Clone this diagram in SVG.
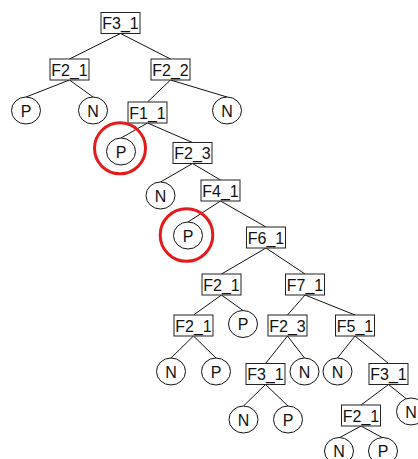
<svg xmlns="http://www.w3.org/2000/svg" width="418" height="459" viewBox="0 0 418 459">
<style>
.box{fill:#fff;stroke:#222;stroke-width:1}
.leaf{fill:#fff;stroke:#111;stroke-width:1}
.hl{fill:none;stroke:#e31b1b;stroke-width:3}
.edge{stroke:#111;stroke-width:1;fill:none}
text{font-family:"Liberation Sans",Arial,sans-serif;font-size:16px;fill:#111;text-anchor:middle}
</style>
<rect width="418" height="459" fill="#fff"/>
<g id="connectors" class="edge">
<line x1="120.5" y1="33.5" x2="69.5" y2="59"/>
<line x1="120.5" y1="33.5" x2="170.5" y2="59"/>
<line x1="69.5" y1="80" x2="26" y2="97"/>
<line x1="69.5" y1="80" x2="93" y2="97"/>
<line x1="170.5" y1="80" x2="147.5" y2="102"/>
<line x1="170.5" y1="80" x2="227" y2="97"/>
<line x1="147.5" y1="123" x2="121" y2="138"/>
<line x1="147.5" y1="123" x2="192.5" y2="142.5"/>
<line x1="192.5" y1="163.5" x2="160.5" y2="182"/>
<line x1="192.5" y1="163.5" x2="220.5" y2="180"/>
<line x1="220.5" y1="201" x2="188" y2="222"/>
<line x1="220.5" y1="201" x2="266" y2="227"/>
<line x1="266" y1="248" x2="221.5" y2="274"/>
<line x1="266" y1="248" x2="305" y2="274"/>
<line x1="221.5" y1="295" x2="193.5" y2="315"/>
<line x1="221.5" y1="295" x2="243" y2="310.5"/>
<line x1="305" y1="295" x2="287.5" y2="315"/>
<line x1="305" y1="295" x2="355" y2="315"/>
<line x1="193.5" y1="336" x2="171" y2="358"/>
<line x1="193.5" y1="336" x2="216" y2="358"/>
<line x1="287.5" y1="336" x2="265.5" y2="363.5"/>
<line x1="287.5" y1="336" x2="304.5" y2="358"/>
<line x1="355" y1="336" x2="337.5" y2="358"/>
<line x1="355" y1="336" x2="388.5" y2="363.5"/>
<line x1="265.5" y1="384.5" x2="243.5" y2="406"/>
<line x1="265.5" y1="384.5" x2="288" y2="406"/>
<line x1="388.5" y1="384.5" x2="361" y2="405"/>
<line x1="388.5" y1="384.5" x2="406" y2="398.5"/>
<line x1="361" y1="426" x2="339" y2="438"/>
<line x1="361" y1="426" x2="383" y2="438"/>
</g>
<g id="n_F3_1_root"><rect class="box" x="101" y="12.5" width="39" height="21"/><text x="120.5" y="29">F3_1</text></g>
<g id="n_F2_1_a"><rect class="box" x="50" y="59" width="39" height="21"/><text x="69.5" y="75.5">F2_1</text></g>
<g id="n_F2_2"><rect class="box" x="151" y="59" width="39" height="21"/><text x="170.5" y="75.5">F2_2</text></g>
<g id="n_P_a"><ellipse class="leaf" cx="26" cy="110.5" rx="14.5" ry="13.5"/><text x="26" y="116.5">P</text></g>
<g id="n_N_a"><ellipse class="leaf" cx="93" cy="110.5" rx="14.5" ry="13.5"/><text x="93" y="116.5">N</text></g>
<g id="n_F1_1"><rect class="box" x="128" y="102" width="39" height="21"/><text x="147.5" y="118.5">F1_1</text></g>
<g id="n_N_b"><ellipse class="leaf" cx="227" cy="110.5" rx="14.5" ry="13.5"/><text x="227" y="116.5">N</text></g>
<g id="n_P_b"><ellipse class="leaf" cx="121" cy="151.5" rx="14.5" ry="13.5"/><text x="121" y="157.5">P</text><circle class="hl" cx="120" cy="148.3" r="25.5"/></g>
<g id="n_F2_3_a"><rect class="box" x="173" y="142.5" width="39" height="21"/><text x="192.5" y="159">F2_3</text></g>
<g id="n_N_c"><ellipse class="leaf" cx="160.5" cy="195.5" rx="14.5" ry="13.5"/><text x="160.5" y="201.5">N</text></g>
<g id="n_F4_1"><rect class="box" x="201" y="180" width="39" height="21"/><text x="220.5" y="196.5">F4_1</text></g>
<g id="n_P_c"><ellipse class="leaf" cx="188" cy="235.5" rx="14.5" ry="13.5"/><text x="188" y="241.5">P</text><circle class="hl" cx="186.5" cy="235" r="26.3"/></g>
<g id="n_F6_1"><rect class="box" x="246.5" y="227" width="39" height="21"/><text x="266" y="243.5">F6_1</text></g>
<g id="n_F2_1_b"><rect class="box" x="202" y="274" width="39" height="21"/><text x="221.5" y="290.5">F2_1</text></g>
<g id="n_F7_1"><rect class="box" x="285.5" y="274" width="39" height="21"/><text x="305" y="290.5">F7_1</text></g>
<g id="n_F2_1_c"><rect class="box" x="174" y="315" width="39" height="21"/><text x="193.5" y="331.5">F2_1</text></g>
<g id="n_P_d"><ellipse class="leaf" cx="243" cy="324" rx="14.5" ry="13.5"/><text x="243" y="330">P</text></g>
<g id="n_F2_3_b"><rect class="box" x="268" y="315" width="39" height="21"/><text x="287.5" y="331.5">F2_3</text></g>
<g id="n_F5_1"><rect class="box" x="335.5" y="315" width="39" height="21"/><text x="355" y="331.5">F5_1</text></g>
<g id="n_N_d"><ellipse class="leaf" cx="171" cy="371.5" rx="14.5" ry="13.5"/><text x="171" y="377.5">N</text></g>
<g id="n_P_e"><ellipse class="leaf" cx="216" cy="371.5" rx="14.5" ry="13.5"/><text x="216" y="377.5">P</text></g>
<g id="n_F3_1_b"><rect class="box" x="246" y="363.5" width="39" height="21"/><text x="265.5" y="380">F3_1</text></g>
<g id="n_N_e"><ellipse class="leaf" cx="304.5" cy="371.5" rx="14.5" ry="13.5"/><text x="304.5" y="377.5">N</text></g>
<g id="n_N_f"><ellipse class="leaf" cx="337.5" cy="371.5" rx="14.5" ry="13.5"/><text x="337.5" y="377.5">N</text></g>
<g id="n_F3_1_c"><rect class="box" x="369" y="363.5" width="39" height="21"/><text x="388.5" y="380">F3_1</text></g>
<g id="n_N_g"><ellipse class="leaf" cx="243.5" cy="419.5" rx="14.5" ry="13.5"/><text x="243.5" y="425.5">N</text></g>
<g id="n_P_f"><ellipse class="leaf" cx="288" cy="419.5" rx="14.5" ry="13.5"/><text x="288" y="425.5">P</text></g>
<g id="n_F2_1_d"><rect class="box" x="341.5" y="405" width="39" height="21"/><text x="361" y="421.5">F2_1</text></g>
<g id="n_N_h"><ellipse class="leaf" cx="411" cy="411.5" rx="14.5" ry="13.5"/><text x="411" y="417.5">N</text></g>
<g id="n_N_i"><ellipse class="leaf" cx="339" cy="451" rx="14.5" ry="13.5"/><text x="339" y="456.5">N</text></g>
<g id="n_P_g"><ellipse class="leaf" cx="383" cy="451" rx="14.5" ry="13.5"/><text x="383" y="456.5">P</text></g>
</svg>
